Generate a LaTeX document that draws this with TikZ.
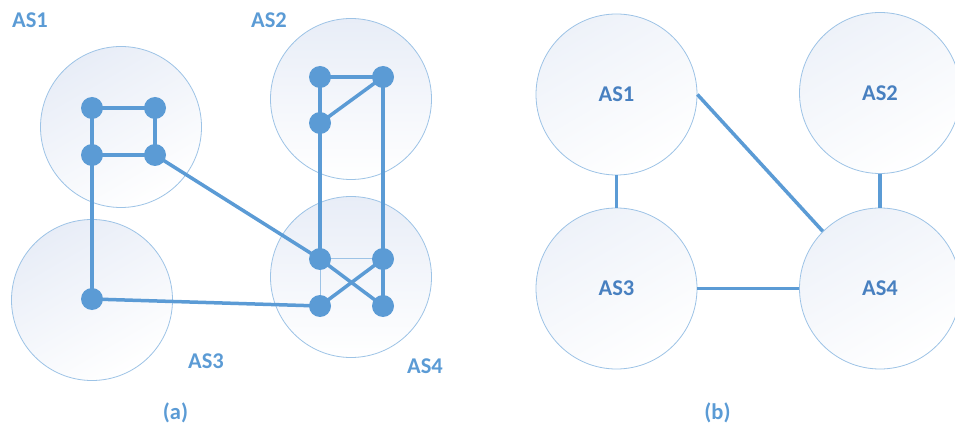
\documentclass[tikz,border=0pt]{standalone}
\usepackage{fontspec}
\setmainfont{Carlito}
\definecolor{asblue}{RGB}{91,155,213}
\definecolor{asline}{RGB}{157,195,230}
\definecolor{astext}{RGB}{72,128,192}
\definecolor{asfill}{RGB}{232,237,247}
\definecolor{asfilllight}{RGB}{238,242,249}
\begin{document}
\begin{tikzpicture}[x=1pt,y=-1pt,
  ascircle/.style={circle,draw=asline,line width=0.8pt,minimum size=161pt,inner sep=0pt,
    shading=axis,top color=asfill,bottom color=white,shading angle=30,
    font=\fontsize{22.5}{27}\selectfont\bfseries,text=astext},
  router/.style={circle,fill=asblue,minimum size=22pt,inner sep=0pt},
  link/.style={draw=asblue,line width=3.5pt},
  thinlink/.style={draw=asline,line width=1pt},
  label/.style={font=\fontsize{22.5}{27}\selectfont\bfseries,text=asblue,inner sep=0pt}]
\useasboundingbox (0,0) rectangle (955,430);
% ---------- (a) ----------
\node[ascircle] (LA1) at (121,127) {};
\node[ascircle,shading angle=0] (LA2) at (351,99) {};
\node[ascircle] (LA3) at (92,300) {};
\node[ascircle,shading angle=0] (LA4) at (351,277) {};
\coordinate (p1) at (92,108);
\coordinate (p2) at (155,108);
\coordinate (p3) at (92,155);
\coordinate (p4) at (155,155);
\coordinate (q1) at (320,77);
\coordinate (q2) at (383,77);
\coordinate (q3) at (320,123);
\coordinate (s1) at (92,299);
\coordinate (t1) at (320,259);
\coordinate (t2) at (383,259);
\coordinate (t3) at (320,306);
\coordinate (t4) at (383,306);
\draw[thinlink] (t1) -- (t2);
\draw[thinlink] (t1) -- (t3);
\draw[link] (p1) -- (p2);
\draw[link] (p2) -- (p4);
\draw[link] (p3) -- (p4);
\draw[link] (p1) -- (p3);
\draw[link] (p3) -- (s1);
\draw[link] (p4) -- (t1);
\draw[link] (s1) -- (t3);
\draw[link] (q1) -- (q2);
\draw[link] (q1) -- (q3);
\draw[link] (q3) -- (q2);
\draw[link] (q3) -- (t1);
\draw[link] (q2) -- (t2);
\draw[link] (t2) -- (t4);
\draw[link] (t1) -- (t4);
\draw[link] (t2) -- (t3);
\foreach \n in {p1,p2,p3,p4,q1,q2,q3,s1,t1,t2,t3,t4}
  \node[router] (r\n) at (\n) {};
\node[label] (la1) at (30,20) {AS1};
\node[label] (la2) at (269,20) {AS2};
\node[label] (la3) at (206,361) {AS3};
\node[label] (la4) at (425,366) {AS4};
\node[label] (capa) at (175.5,413) {(a)};
% ---------- (b) ----------
\node[ascircle,top color=asfilllight,shading angle=30] (RB1) at (616.5,94.5) {AS1};
\node[ascircle,top color=asfilllight,shading angle=30] (RB2) at (880,93) {AS2};
\node[ascircle,top color=asfilllight,shading angle=30] (RB3) at (616.5,288.5) {AS3};
\node[ascircle,top color=asfilllight,shading angle=30] (RB4) at (880,288.5) {AS4};
\draw[link] (RB1) -- (RB3);
\draw[link] (RB2) -- (RB4);
\draw[link] (RB3) -- (RB4);
\draw[link] (RB1.east) -- (RB4.north west);
\node[label] (capb) at (717.5,413) {(b)};
\end{tikzpicture}
\end{document}
